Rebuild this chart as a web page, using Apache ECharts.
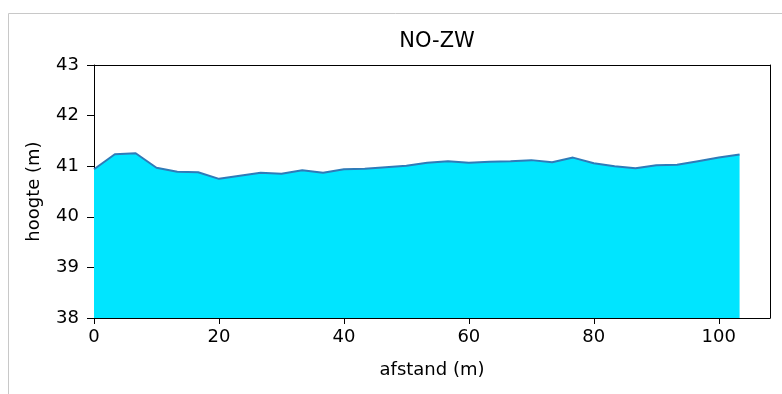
<!DOCTYPE html>
<html>
<head>
<meta charset="utf-8">
<script src="https://cdn.jsdelivr.net/npm/echarts@6/dist/echarts.min.js"></script>
<style>
html,body{margin:0;padding:0;background:#fff;}
#chart{width:782px;height:394px;}
</style>
</head>
<body>
<div id="chart"></div>
<script>
const titleText = 'NO-ZW';
const xName = 'afstand (m)';
const yName = 'hoogte (m)';
const xTicks = [0, 20, 40, 60, 80, 100];
const yTicks = [38, 39, 40, 41, 42, 43];
const afstand = [0, 3.33, 6.67, 10, 13.33, 16.67, 20, 23.33, 26.67, 30, 33.33, 36.67, 40, 43.33, 46.67, 50,
  53.33, 56.67, 60, 63.33, 66.67, 70, 73.33, 76.67, 80, 83.33, 86.67, 90, 93.33, 96.67, 100, 103.33];
const hoogte = [40.94, 41.235, 41.255, 40.97, 40.89, 40.88, 40.75, 40.81, 40.87, 40.85, 40.92, 40.87, 40.94, 40.95, 40.98, 41.01,
  41.07, 41.10, 41.07, 41.09, 41.10, 41.12, 41.08, 41.17, 41.06, 41.00, 40.96, 41.02, 41.03, 41.10, 41.17, 41.23];

const font = 'DejaVu Sans';
const xMin = 0, xMax = 108.2, yMin = 38, yMax = 43;
const frameAxis = {
  show: true,
  axisLine: {show: true, onZero: false, lineStyle: {color: '#000', width: 1}},
  axisTick: {show: false}, axisLabel: {show: false}, splitLine: {show: false}
};
const chart = echarts.init(document.getElementById('chart'), null, {renderer: 'canvas'});
chart.setOption({
  backgroundColor: '#fff',
  animation: false,
  graphic: [{
    type: 'polyline',
    shape: {points: [[8.5, 394], [8.5, 13.5], [782, 13.5]]},
    style: {stroke: '#c8c8c8', lineWidth: 1, fill: null},
    silent: true
  }],
  title: {
    text: titleText,
    left: 432, top: 26, textAlign: 'center',
    textStyle: {fontFamily: font, fontSize: 21, fontWeight: 'normal', color: '#000'}
  },
  grid: {left: 94, top: 65, right: 12, bottom: 76},
  xAxis: [{
    type: 'value', min: xMin, max: xMax, position: 'bottom',
    name: xName, nameLocation: 'middle', nameGap: 43,
    nameTextStyle: {fontFamily: font, fontSize: 18, color: '#000'},
    axisLine: {show: true, onZero: false, lineStyle: {color: '#000', width: 1}},
    axisTick: {show: true, inside: false, length: 6, customValues: xTicks, lineStyle: {color: '#000'}},
    axisLabel: {customValues: xTicks, margin: 10, fontFamily: font, fontSize: 18, color: '#000'},
    splitLine: {show: false}
  }, Object.assign({type: 'value', min: xMin, max: xMax, position: 'top'}, frameAxis)],
  yAxis: [{
    type: 'value', min: yMin, max: yMax, interval: 1, position: 'left',
    name: yName, nameLocation: 'middle', nameGap: 51, nameRotate: 90,
    nameTextStyle: {fontFamily: font, fontSize: 18, color: '#000'},
    axisLine: {show: true, onZero: false, lineStyle: {color: '#000', width: 1}},
    axisTick: {show: true, inside: false, length: 7, customValues: yTicks, lineStyle: {color: '#000'}},
    axisLabel: {customValues: yTicks, margin: 15, fontFamily: font, fontSize: 18, color: '#000'},
    splitLine: {show: false}
  }, Object.assign({type: 'value', min: yMin, max: yMax, position: 'right'}, frameAxis)],
  series: [{
    type: 'line',
    xAxisIndex: 0, yAxisIndex: 0,
    data: afstand.map((d, i) => [d, hoogte[i]]),
    showSymbol: false,
    lineStyle: {color: '#2f7bb8', width: 2},
    itemStyle: {color: '#2f7bb8'},
    areaStyle: {color: '#00e5ff', opacity: 1, origin: 'start'},
    z: 2
  }]
});
</script>
</body>
</html>
